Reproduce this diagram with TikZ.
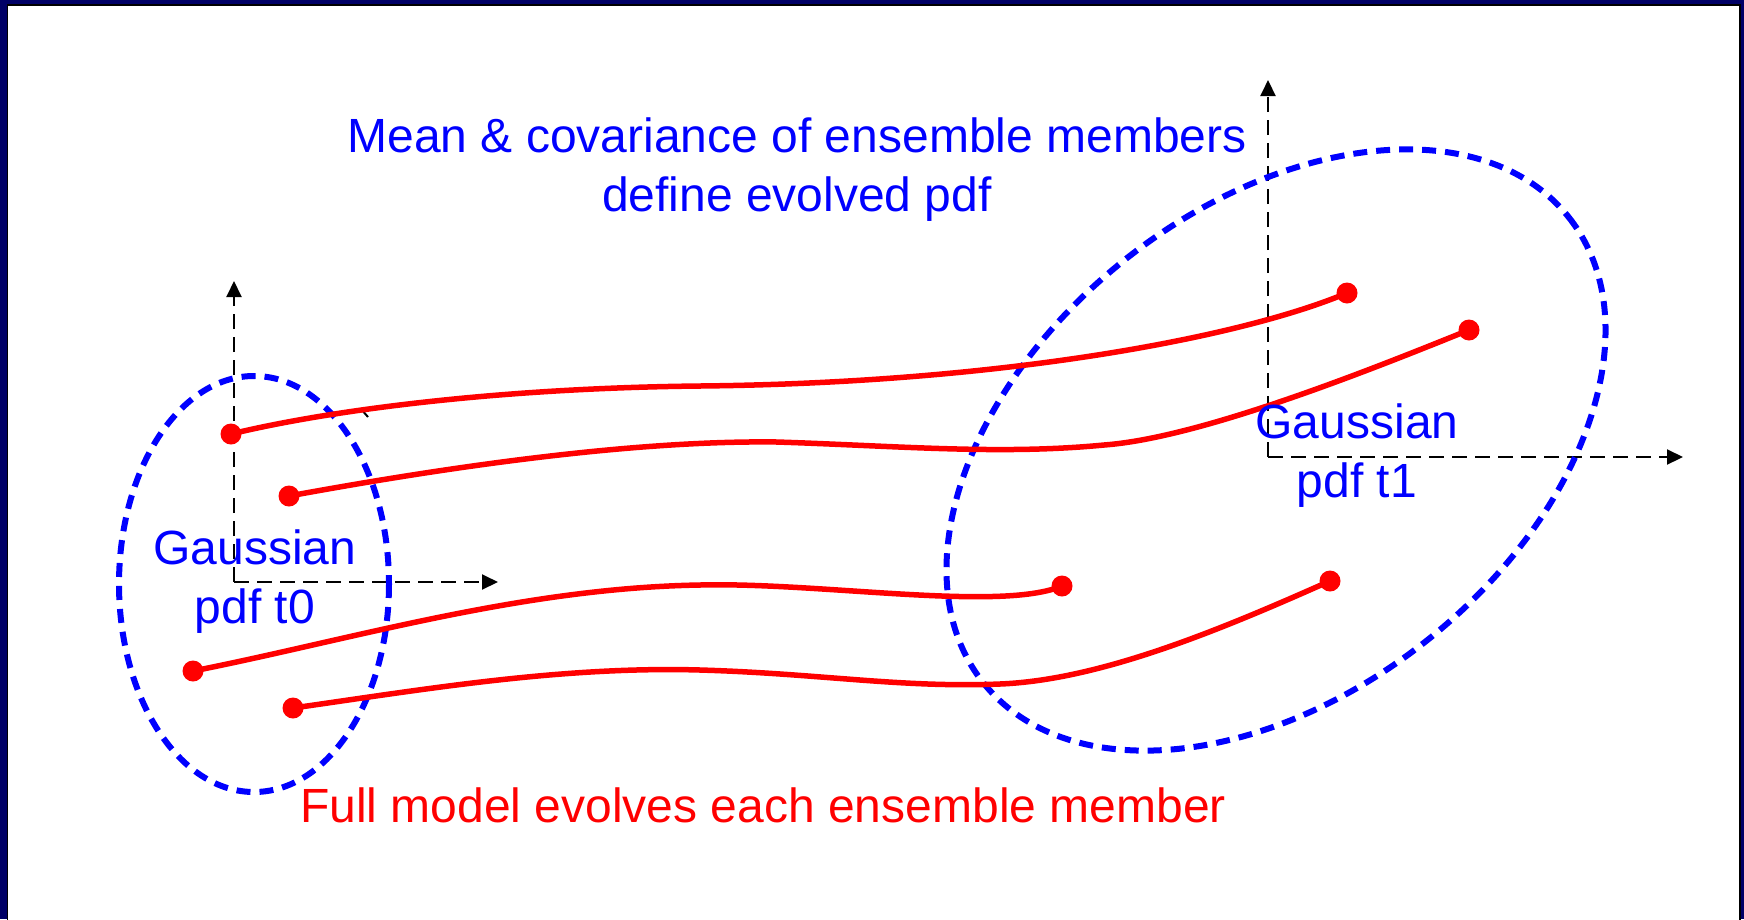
\documentclass[tikz,border=0pt]{standalone}
\usepackage{fontspec}
\setmainfont{Liberation Sans}
\usetikzlibrary{arrows.meta}
\definecolor{framenavy}{RGB}{0,0,102}

\begin{document}
\begin{tikzpicture}[x=1pt,y=-1pt,
  axis/.style={line width=2pt,dash pattern=on 15pt off 8pt,-{Triangle[length=16pt,width=15pt]}},
  pdfline/.style={blue,line width=6pt,dash pattern=on 14pt off 9pt},
  traj/.style={red,line width=5.5pt},
  member/.style={circle,fill=red,inner sep=0pt,minimum size=21pt},
  lbl/.style={align=center,font=\fontsize{48}{59}\selectfont}]
\useasboundingbox (0,0) rectangle (1744,919);
\fill[framenavy] (0,0) rectangle (1744,919);
\filldraw[fill=white,draw=black,line width=1.6pt] (7.5,5) rectangle (1740,930);

% axes of the two pdfs
\coordinate (o0) at (234,582);
\coordinate (y0) at (234,281);
\coordinate (x0) at (498,582);
\coordinate (o1) at (1268,457);
\coordinate (y1) at (1268,80);
\coordinate (x1) at (1683,457);
\draw[axis] (o0) -- (y0);
\draw[axis] (o0) -- (x0);
\draw[axis] (o1) -- (y1);
\draw[axis] (o1) -- (x1);
\draw[line width=2pt] (361,409) -- (368,417);

% pdf at t0 and t1
\draw[pdfline] (254,584) ellipse [x radius=135, y radius=208];
\draw[pdfline,rotate around={38.5:(1276,450)}] (1276,450) ellipse [x radius=374, y radius=243];

% ensemble members
\node[member] (s1) at (231,434) {};
\node[member] (s2) at (289,496) {};
\node[member] (s3) at (193,671) {};
\node[member] (s4) at (293,708) {};
\node[member] (e1) at (1347,293) {};
\node[member] (e2) at (1469,330) {};
\node[member] (e3) at (1062,586) {};
\node[member] (e4) at (1330,581) {};
\draw[traj] (s1.center) .. controls (330,410) and (500,388) .. (700,386)
   .. controls (1000,383) and (1240,338) .. (e1.center);
\draw[traj] (s2.center) .. controls (420,472) and (620,440) .. (777,442)
   .. controls (900,446) and (1000,455) .. (1104,445)
   .. controls (1200,438) and (1370,370) .. (e2.center);
\draw[traj] (s3.center) .. controls (350,640) and (520,588) .. (700,585)
   .. controls (820,582) and (1000,612) .. (e3.center);
\draw[traj] (s4.center) .. controls (420,690) and (560,666) .. (700,670)
   .. controls (820,673.5) and (900,688) .. (1000,684)
   .. controls (1100,680) and (1220,630) .. (e4.center);

% labels
\node[lbl,text=blue] (mean) at (797,170) {Mean \& covariance of ensemble members\\define evolved pdf};
\node[lbl,text=blue] (g0) at (255,582) {Gaussian\\pdf t0};
\node[lbl,text=blue] (g1) at (1357,456) {Gaussian\\pdf t1};
\node[lbl,text=red] (full) at (763,805) {Full model evolves each ensemble member};
\end{tikzpicture}
\end{document}
